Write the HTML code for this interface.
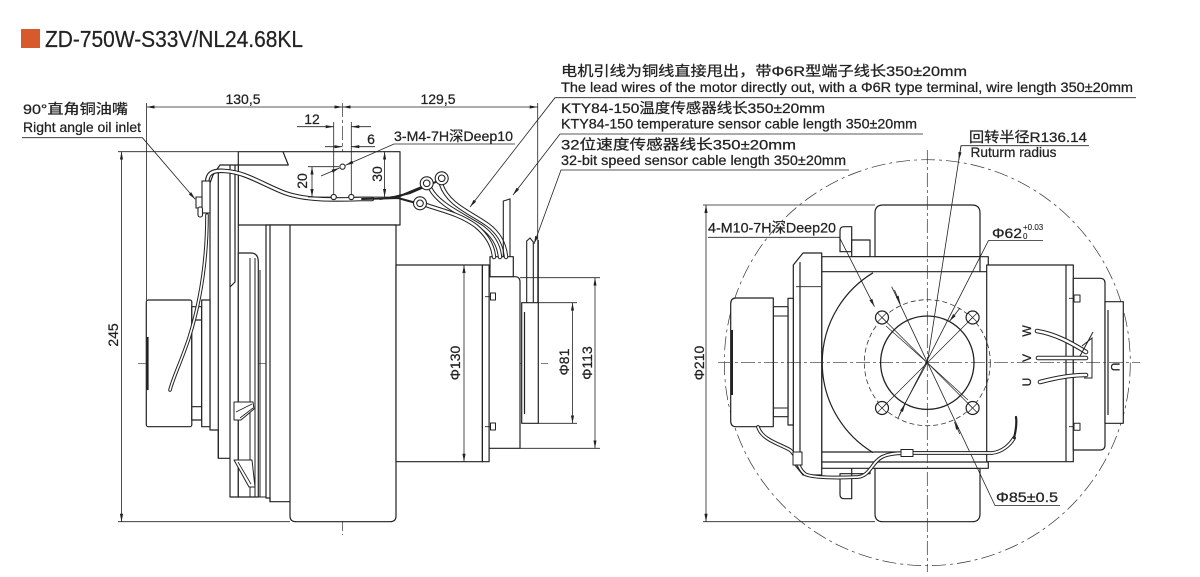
<!DOCTYPE html>
<html><head><meta charset="utf-8"><title>ZD-750W-S33V/NL24.68KL</title>
<style>
html,body{margin:0;padding:0;background:#fff;width:1200px;height:577px;overflow:hidden}
svg{display:block}
</style></head><body>
<svg width="1200" height="577" viewBox="0 0 1200 577" xmlns="http://www.w3.org/2000/svg">
<defs>
<marker id="a" viewBox="0 0 10 4" refX="10" refY="2" markerWidth="8" markerHeight="3.2" markerUnits="userSpaceOnUse" orient="auto-start-reverse"><path d="M0,0L10,2L0,4z" fill="#222"/></marker>
</defs>
<rect width="1200" height="577" fill="#fff"/>
<rect x="21" y="29" width="19" height="19" fill="#d65a2c"/>

<!-- ================= LEFT VIEW ================= -->
<g stroke="#333" stroke-width="0.7" fill="none" stroke-dasharray="14 3 3 3">
<path d="M342.5,103V535"/>
<path d="M138,363.3H440M472,363.3H548"/>
<path d="M206,198.3H238"/>
</g>

<g stroke="#222" stroke-width="1.2" fill="#fff" stroke-linejoin="round">
<path d="M238.3,151.7H400V225H238.3Z"/>
<path d="M238.3,165H288.3L283,151.7" fill="none"/>
<path d="M266,225V498H270V501.7H290V516Q290,521.7 296,521.7H390Q396,521.7 396,516V225Z"/>
<path d="M270,225V501.7M290,225V501.7" fill="none"/>
<rect x="396" y="265" width="86.4" height="196.7"/>
<rect x="482.4" y="265" width="6.7" height="196.7"/>
<path d="M489.1,276.7H515Q520,276.7 520,282V448.3H489.1Z"/>
<rect x="490" y="256.7" width="23.3" height="20"/>
<rect x="521.7" y="302.7" width="16.6" height="120.6"/>
<path d="M524.5,312V414" fill="none"/>
<rect x="490.5" y="293" width="5" height="7" stroke-width="1"/>
<rect x="490.5" y="423" width="5" height="7" stroke-width="1"/>
<path d="M485,296.7H490M485,426.7H490" fill="none" stroke-width="0.8"/>
<path d="M210,183L213,175L220,165H238.3V497H230V458.3H218.3V430H210Z"/>
<path d="M218.3,172V458.3M230,165V458.3M235,165V282L230,287" fill="none"/>
<path d="M238.3,253H251Q258.3,253 258.3,262V497H238.3Z"/>
<path d="M250,258V497M255,258V497M260,270V497M230,497H266" fill="none" stroke-width="1"/>
<path d="M234,402H253L254,409L241,420H234Z" stroke-width="1"/>
<path d="M236,412L252,404M240,418L253,408" fill="none" stroke-width="0.8"/>
<path d="M234,460H252L255,487H249Z" stroke-width="1"/>
<path d="M238,462L251,484" fill="none" stroke-width="0.8"/>
<rect x="146.3" y="300" width="45.5" height="126.7" rx="2"/>
<path d="M147.6,337V390" fill="none" stroke-width="2"/>
<rect x="191.8" y="306.7" width="9.9" height="113.3"/>
<path d="M191.8,320H201.7M191.8,406.7H201.7" fill="none"/>
<rect x="201.7" y="300" width="8.3" height="126.7"/>
</g>

<g fill="none" stroke-linecap="round">
<path d="M207,215C207,260 201,300 189,338C181,362 173,378 170,390" stroke="#222" stroke-width="3.6"/>
<path d="M207,215C207,260 201,300 189,338C181,362 173,378 170,390" stroke="#fff" stroke-width="1.6"/>
<path d="M207,184C207,173 212,170 225,171C245,172 262,184 285,193C305,200 330,200 360,199L372,199" stroke="#222" stroke-width="4.6"/>
<path d="M207,184C207,173 212,170 225,171C245,172 262,184 285,193C305,200 330,200 360,199L372,199" stroke="#fff" stroke-width="2.4"/>
<path d="M362,199L398,198L416,203M380,199L400,196L424,186M390,198L410,193L438,181" stroke="#222" stroke-width="2"/>
<path d="M441,184C448,205 470,212 488,225C500,234 505,245 506,257" stroke="#222" stroke-width="4.4"/>
<path d="M441,184C448,205 470,212 488,225C500,234 505,245 506,257" stroke="#fff" stroke-width="2.4"/>
<path d="M430,188C439,205 462,214 482,227C494,236 499,246 500,257" stroke="#222" stroke-width="4.4"/>
<path d="M430,188C439,205 462,214 482,227C494,236 499,246 500,257" stroke="#fff" stroke-width="2.4"/>
<path d="M426,205C440,210 460,214 476,226C488,236 493,246 494,257" stroke="#222" stroke-width="4.4"/>
<path d="M426,205C440,210 460,214 476,226C488,236 493,246 494,257" stroke="#fff" stroke-width="2.4"/>
</g>
<g stroke="#222" stroke-width="1.1" fill="#fff">
<circle cx="420" cy="203.3" r="6.5"/><circle cx="420" cy="203.3" r="3.3"/>
<circle cx="426.7" cy="183.3" r="6.5"/><circle cx="426.7" cy="183.3" r="3.3"/>
<circle cx="441.7" cy="178.3" r="6.5"/><circle cx="441.7" cy="178.3" r="3.3"/>
<path d="M503.3,256.7V201L510,199V256.7" fill="none"/>
<path d="M526.7,302.7V241L530,238L533.3,242V302.7M538.3,302.7V240" fill="none"/>
<rect x="202" y="181" width="8" height="32"/>
<path d="M196,197H202V208H196Z"/>
<rect x="198" y="207" width="4.5" height="10" rx="2"/>
<circle cx="342.5" cy="166.7" r="2.6"/>
<circle cx="333.7" cy="197" r="2.6"/>
<circle cx="351.3" cy="197" r="2.6"/>
</g>

<g stroke="#222" stroke-width="0.8" fill="none">
<path d="M146.6,103V300M537.7,103V302.7"/>
<path d="M146.6,107H342.5" marker-start="url(#a)" marker-end="url(#a)"/>
<path d="M342.5,107H537.7" marker-start="url(#a)" marker-end="url(#a)"/>
<path d="M118,151.7H238M118,521.7H290"/>
<path d="M121.5,151.7V521.7" marker-start="url(#a)" marker-end="url(#a)"/>
<path d="M333.7,122V194M351.3,122V194"/>
<path d="M297,126.7H333.7" marker-end="url(#a)"/>
<path d="M371,126.7H351.3" marker-end="url(#a)"/>
<path d="M325,146.7H342.5" marker-end="url(#a)"/>
<path d="M375,146.7H351.3" marker-end="url(#a)"/>
<path d="M308,166.7H339M308,197H331"/>
<path d="M312,166.7V197" marker-start="url(#a)" marker-end="url(#a)"/>
<path d="M355,197H388"/>
<path d="M384.6,151.7V197" marker-start="url(#a)" marker-end="url(#a)"/>
<path d="M515,144H394L345.5,165.3" marker-end="url(#a)"/>
<path d="M321,176L339.5,168" marker-end="url(#a)"/>
<path d="M22,137.7H142.4L195.2,199.3" marker-end="url(#a)"/>
<path d="M464,265V461.7" marker-start="url(#a)" marker-end="url(#a)"/>
<path d="M538,302.7H577M538,423.3H577"/>
<path d="M572.5,302.7V423.3" marker-start="url(#a)" marker-end="url(#a)"/>
<path d="M520,277.7H600M520,448.3H600"/>
<path d="M595,277.7V448.3" marker-start="url(#a)" marker-end="url(#a)"/>
<path d="M1136,97.7H555L470,207" marker-end="url(#a)"/>
<path d="M923,134H560L513,195" marker-end="url(#a)"/>
<path d="M849,170H561L534,244" marker-end="url(#a)"/>
</g>

<!-- ================= RIGHT VIEW ================= -->
<circle cx="927.3" cy="362.7" r="203" fill="none" stroke="#333" stroke-width="0.7" stroke-dasharray="14 4 3 4"/>

<g stroke="#222" stroke-width="1.2" fill="#fff" stroke-linejoin="round">
<path d="M875,256.7V213Q875,205 883,205H972Q980,205 980,213V256.7Z"/>
<path d="M875,468.3V513.7Q875,521.7 883,521.7H972Q980,521.7 980,513.7V468.3Z"/>
<path d="M840,251.7V231Q840,226.7 844,226.7H851.7V251.7Z"/>
<rect x="851.7" y="240" width="18.3" height="16.7"/>
<path d="M840,473.7V494.5Q840,498.7 844,498.7H851.7V473.7Z"/>
<rect x="851.7" y="466" width="18.3" height="7.7"/>
<rect x="821.7" y="256.7" width="166.6" height="211.6"/>
<path d="M821.7,271.7H988.3M821.7,452H988.3M821.7,462H988.3M980,256.7V271.7" fill="none"/>
<path d="M793.3,265L803,253H821.7V475H803L793.3,463Z"/>
<path d="M800,262V466" fill="none"/>
<path d="M873,272.8A105,105 0 0 0 873,452.6" fill="none"/>
<rect x="788" y="298.3" width="5.3" height="126.7"/>
<rect x="773.3" y="306.7" width="14.7" height="110"/>
<path d="M773.3,316H788M773.3,408H788" fill="none" stroke-width="0.9"/>
<path d="M773.3,298H736Q730.7,298 730.7,304V420.7Q730.7,426.7 736,426.7H773.3Z"/>
<path d="M732,330V395" fill="none" stroke-width="2"/>
<rect x="986.7" y="265" width="86.6" height="196.7"/>
<path d="M1066,265V461.7" fill="none"/>
<path d="M1073.3,278.3H1100Q1105,278.3 1105,283V445Q1105,450 1100,450H1073.3Z"/>
<rect x="1105" y="301.7" width="18.3" height="121.6"/>
<path d="M1108,310V415" fill="none"/>
<rect x="1074" y="295" width="6" height="7" stroke-width="1"/>
<rect x="1074" y="423.3" width="6" height="7" stroke-width="1"/>
<path d="M1069,298.3H1074M1069,426.7H1074" fill="none" stroke-width="0.8"/>
</g>

<g stroke="#333" stroke-width="0.7" fill="none" stroke-dasharray="14 3 3 3">
<path d="M927.3,150V572"/>
<path d="M718,362.7H1140"/>
</g>
<circle cx="927.3" cy="362.7" r="63" fill="none" stroke="#333" stroke-width="0.8" stroke-dasharray="5 3"/>
<circle cx="927.3" cy="362.7" r="46.7" fill="none" stroke="#222" stroke-width="1.3"/>
<g stroke="#222" stroke-width="1.2" fill="#fff">
<circle cx="882" cy="317.5" r="6.5"/>
<circle cx="972.6" cy="317.5" r="6.5"/>
<circle cx="882" cy="408" r="6.5"/>
<circle cx="972.6" cy="408" r="6.5"/>
</g>
<g stroke="#222" stroke-width="0.7" fill="none">
<path d="M877.5,313L886.5,322M886.5,313L877.5,322M968.1,313L977.1,322M977.1,313L968.1,322M877.5,403.5L886.5,412.5M886.5,403.5L877.5,412.5M968.1,403.5L977.1,412.5M977.1,403.5L968.1,412.5"/>
<path d="M882,317.5L972.6,408M972.6,317.5L882,408"/>
<path d="M886,326L927.3,362.7L968,400M902,409L927.3,362.7"/>
</g>

<g stroke="#222" stroke-width="0.8" fill="none">
<path d="M703,205H875M703,521.7H875"/>
<path d="M706,205V521.7" marker-start="url(#a)" marker-end="url(#a)"/>
<path d="M708,237.3H839.4L874.5,306.7" marker-end="url(#a)"/>
<path d="M1043,240.5H988.5L899.4,414.7"/>
<path d="M960,308L949.5,321.3" marker-end="url(#a)"/>
<path d="M898,418L905.1,404.1" marker-end="url(#a)"/>
<path d="M1060,505.5H995L891.7,286.7"/>
<path d="M894.5,290L900.2,303.6" marker-end="url(#a)"/>
<path d="M959.8,434L954.4,421.8" marker-end="url(#a)"/>
<path d="M1089,145.7H961L927.3,362.7"/>
<path d="M961,146L958.8,160" marker-end="url(#a)"/>
<path d="M796,286.7H821"/>
</g>

<g fill="none" stroke-linecap="round">
<path d="M758,427C762,440 780,444 790,450C797,455 797,468 805,474C812,478 840,478 858,477C870,476 872,462 882,457C890,453 900,453 915,453H992C1002,452 1010,445 1014,438" stroke="#222" stroke-width="3.8"/>
<path d="M758,427C762,440 780,444 790,450C797,455 797,468 805,474C812,478 840,478 858,477C870,476 872,462 882,457C890,453 900,453 915,453H992C1002,452 1010,445 1014,438" stroke="#fff" stroke-width="1.8"/>
<path d="M1014,438C1016,430 1017,424 1016,417" stroke="#222" stroke-width="2.2"/>
<path d="M1037,331C1055,334 1070,342 1086,352" stroke="#222" stroke-width="4.6"/>
<path d="M1037,331C1055,334 1070,342 1086,352" stroke="#fff" stroke-width="2.6"/>
<path d="M1038,358H1086" stroke="#222" stroke-width="4.6"/>
<path d="M1038,358H1086" stroke="#fff" stroke-width="2.6"/>
<path d="M1040,382C1055,378 1070,375 1086,375" stroke="#222" stroke-width="4.6"/>
<path d="M1040,382C1055,378 1070,375 1086,375" stroke="#fff" stroke-width="2.6"/>
</g>
<g stroke="#222" stroke-width="1" fill="#fff">
<rect x="793" y="452" width="9" height="13"/>
<rect x="901" y="449.5" width="12" height="7"/>
<path d="M1082,346L1092,338V378H1084" fill="none"/>
<path d="M1080,356L1093,332" fill="none"/>
</g>

<!-- ================= TEXT ================= -->
<g font-family="'Liberation Sans','Noto Sans CJK SC',sans-serif" fill="#222" stroke="#222" stroke-width="0.25" font-size="14">
<text x="45" y="47" font-size="23" textLength="258" lengthAdjust="spacingAndGlyphs">ZD-750W-S33V/NL24.68KL</text>

<text x="561" y="76" textLength="406" lengthAdjust="spacingAndGlyphs">电机引线为铜线直接甩出，带Φ6R型端子线长350±20mm</text>
<text x="561" y="92" textLength="572" lengthAdjust="spacingAndGlyphs">The lead wires of the motor directly out, with a Φ6R type terminal, wire length 350±20mm</text>
<text x="561" y="113" textLength="264" lengthAdjust="spacingAndGlyphs">KTY84-150温度传感器线长350±20mm</text>
<text x="561" y="128.5" textLength="356" lengthAdjust="spacingAndGlyphs">KTY84-150 temperature sensor cable length 350±20mm</text>
<text x="561" y="149.5" textLength="235" lengthAdjust="spacingAndGlyphs">32位速度传感器线长350±20mm</text>
<text x="561" y="165" textLength="285" lengthAdjust="spacingAndGlyphs">32-bit speed sensor cable length 350±20mm</text>

<text x="23" y="114" textLength="105" lengthAdjust="spacingAndGlyphs">90°直角铜油嘴</text>
<text x="23" y="132" textLength="118" lengthAdjust="spacingAndGlyphs">Right angle oil inlet</text>
<text x="243" y="104" text-anchor="middle">130,5</text>
<text x="438" y="104" text-anchor="middle">129,5</text>
<text x="312" y="124" text-anchor="middle">12</text>
<text x="371" y="144" text-anchor="middle">6</text>
<text x="394" y="141" textLength="119" lengthAdjust="spacingAndGlyphs">3-M4-7H深Deep10</text>
<text transform="translate(302,181) rotate(-90)" text-anchor="middle" dominant-baseline="central">20</text>
<text transform="translate(377,174) rotate(-90)" text-anchor="middle" dominant-baseline="central">30</text>
<text transform="translate(113,335) rotate(-90)" text-anchor="middle" dominant-baseline="central">245</text>
<text transform="translate(455,363) rotate(-90)" text-anchor="middle" dominant-baseline="central">Φ130</text>
<text transform="translate(564,362) rotate(-90)" text-anchor="middle" dominant-baseline="central">Φ81</text>
<text transform="translate(587,363) rotate(-90)" text-anchor="middle" dominant-baseline="central">Φ113</text>

<text x="969" y="142" textLength="118" lengthAdjust="spacingAndGlyphs">回转半径R136.14</text>
<text x="970.5" y="157" textLength="86" lengthAdjust="spacingAndGlyphs">Ruturm radius</text>
<text x="708" y="232.5" textLength="128" lengthAdjust="spacingAndGlyphs">4-M10-7H深Deep20</text>
<text x="992" y="238" textLength="30" lengthAdjust="spacingAndGlyphs">Φ62</text>
<text x="1023" y="230" font-size="8" stroke-width="0.1">+0.03</text>
<text x="1023" y="239" font-size="8" stroke-width="0.1">0</text>
<text x="996" y="502" textLength="62" lengthAdjust="spacingAndGlyphs">Φ85±0.5</text>
<text transform="translate(699,363) rotate(-90)" text-anchor="middle" dominant-baseline="central">Φ210</text>
<text transform="translate(1027,331) rotate(-90)" text-anchor="middle" dominant-baseline="central" font-size="12">W</text>
<text transform="translate(1027,358) rotate(-90)" text-anchor="middle" dominant-baseline="central" font-size="12">V</text>
<text transform="translate(1027,382) rotate(-90)" text-anchor="middle" dominant-baseline="central" font-size="12">U</text>
<text transform="translate(1115,367) rotate(90)" text-anchor="middle" dominant-baseline="central" font-size="12">U</text>
</g>
</svg>
</body></html>
